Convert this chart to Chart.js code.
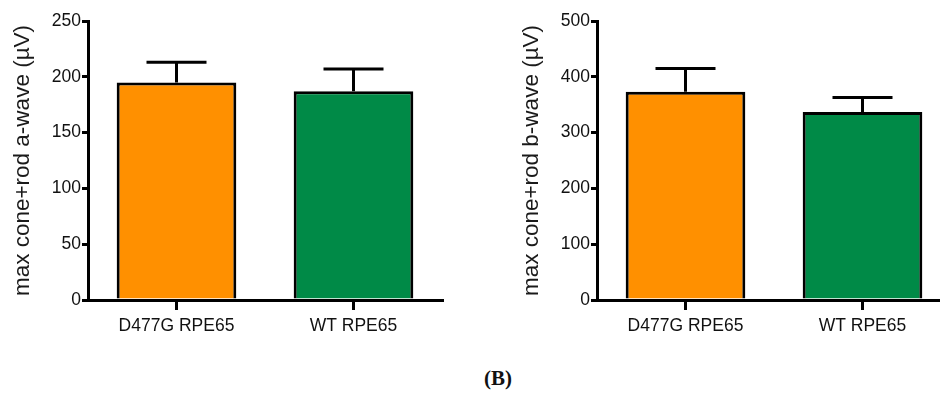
<!DOCTYPE html>
<html>
<head>
<meta charset="utf-8">
<script src="https://cdn.jsdelivr.net/npm/chart.js@4.4.0/dist/chart.umd.min.js"></script>
<style>
html, body { margin: 0; padding: 0; background: #fff; width: 940px; height: 397px; overflow: hidden; position: relative; }
.box { position: absolute; top: 0; width: 470px; height: 340px; }
#caption { position: absolute; left: 440px; width: 116px; top: 366px; text-align: center;
  font: bold 21px "Liberation Serif", serif; color: #111; }
</style>
</head>
<body>
<div class="box" style="left:0"><canvas id="aChart"></canvas></div>
<div class="box" style="left:509px"><canvas id="bChart"></canvas></div>
<div id="caption">(B)</div>
<script>
// values
const groups = ['D477G RPE65', 'WT RPE65'];
const aWave = [195, 187];
const aWaveErr = [18, 20];
const bWave = [373, 337];
const bWaveErr = [42, 26];
const barColors = ['#ff9000', '#008a47'];

// upper error bars drawn through the chart's scales
const errorBars = {
  id: 'errorBars',
  afterDatasetsDraw(chart, args, opts) {
    const ctx = chart.ctx;
    const meta = chart.getDatasetMeta(0);
    const y = chart.scales.y;
    const vals = chart.data.datasets[0].data;
    ctx.save();
    ctx.strokeStyle = '#000';
    ctx.lineWidth = 3;
    meta.data.forEach((bar, i) => {
      const top = y.getPixelForValue(vals[i]);
      const hi = y.getPixelForValue(vals[i] + opts.err[i]);
      ctx.beginPath();
      ctx.moveTo(bar.x, top);
      ctx.lineTo(bar.x, hi);
      ctx.moveTo(bar.x - 30, hi);
      ctx.lineTo(bar.x + 30, hi);
      ctx.stroke();
    });
    ctx.restore();
  }
};

function makeChart(id, values, errs, max, title) {
  return new Chart(document.getElementById(id), {
    type: 'bar',
    data: {
      labels: groups,
      datasets: [{
        data: values,
        backgroundColor: barColors,
        borderColor: '#000',
        borderWidth: 3,
        borderSkipped: 'start',
        barPercentage: 0.676,
        categoryPercentage: 1
      }]
    },
    options: {
      responsive: true, maintainAspectRatio: false, animation: false,
      layout: { padding: { top: 21, right: 28, bottom: 0, left: 0 } },
      plugins: { legend: { display: false }, tooltip: { enabled: false }, errorBars: { err: errs } },
      scales: {
        x: {
          afterFit: s => { s.height = 40; },
          grid: { offset: false, drawOnChartArea: false, drawTicks: true, tickLength: 10, color: '#000', lineWidth: 3 },
          border: { color: '#000', width: 3 },
          ticks: { color: '#111', padding: 6, font: { family: 'Liberation Sans', size: 17.5 } }
        },
        y: {
          min: 0, max: max,
          afterFit: s => { s.width = 88; },
          ticks: { stepSize: max / 5, color: '#111', padding: 1, font: { family: 'Liberation Sans', size: 17.5 } },
          grid: { drawOnChartArea: false, drawTicks: true, tickLength: 6, color: '#000', lineWidth: 3 },
          border: { color: '#000', width: 3 },
          title: { display: true, text: title, color: '#1a1a1a', padding: { top: 9, bottom: 0 },
                   font: { family: 'Liberation Sans', size: 22.5 } }
        }
      }
    },
    plugins: [errorBars]
  });
}

makeChart('aChart', aWave, aWaveErr, 250, 'max cone+rod a-wave (\u00b5V)');
makeChart('bChart', bWave, bWaveErr, 500, 'max cone+rod b-wave (\u00b5V)');
</script>
</body>
</html>
